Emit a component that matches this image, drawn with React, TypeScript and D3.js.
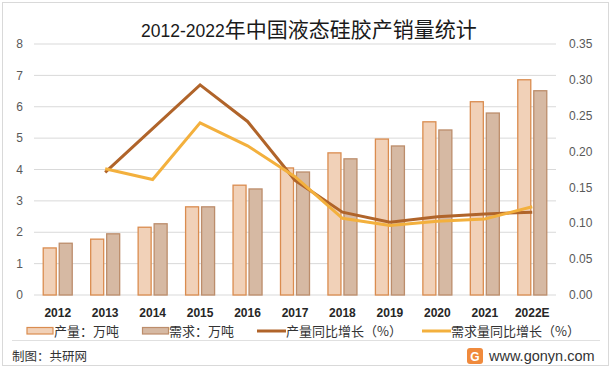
import React from "react";
import * as d3 from "d3";

const years = ["2012", "2013", "2014", "2015", "2016", "2017", "2018", "2019", "2020", "2021", "2022E"];
const production = [1.5, 1.78, 2.16, 2.81, 3.5, 4.05, 4.53, 4.97, 5.52, 6.16, 6.86];
const demand = [1.65, 1.95, 2.27, 2.81, 3.38, 3.92, 4.34, 4.75, 5.26, 5.8, 6.51];
const prodGrowth: (number | null)[] = [null, 0.171, 0.232, 0.293, 0.242, 0.16, 0.1155, 0.1016, 0.109, 0.113, 0.1155];
const demandGrowth: (number | null)[] = [null, 0.176, 0.161, 0.24, 0.208, 0.165, 0.107, 0.097, 0.103, 0.106, 0.123];
const leftTicks = [0, 1, 2, 3, 4, 5, 6, 7, 8];
const rightTicks = [0, 0.05, 0.1, 0.15, 0.2, 0.25, 0.3, 0.35];
const legendLabels = ["产量：万吨", "需求：万吨", "产量同比增长（%）", "需求量同比增长（%）"];

const W = 611;
const H = 369;
const plotLeft = 34;
const plotRight = 556;
const plotTop = 44;
const plotBottom = 295;

const C_PROD_FILL = "#F1D1B8";
const C_PROD_STROKE = "#DA8C4F";
const C_DEM_FILL = "#D6B9A3";
const C_DEM_STROKE = "#BC8D6B";
const C_PROD_LINE = "#B0642A";
const C_DEM_LINE = "#F3B03D";
const FONT = "'Noto Sans CJK SC', 'Noto Sans', sans-serif";

export default function App() {
  const x = d3.scaleBand<string>().domain(years).range([plotLeft, plotRight]);
  const yL = d3.scaleLinear().domain([0, 8]).range([plotBottom, plotTop]);
  const yR = d3.scaleLinear().domain([0, 0.35]).range([plotBottom, plotTop]);
  const cx = (d: string) => (x(d) as number) + x.bandwidth() / 2;
  const barW = 13;
  const gap = 3;

  const lineGen = d3
    .line<number | null>()
    .defined((d) => d !== null)
    .x((_, i) => cx(years[i]))
    .y((d) => yR(d as number));

  return (
    <svg
      width={W}
      height={H}
      style={{ position: "absolute", left: 0, top: 0, background: "#fff" }}
      fontFamily={FONT}
    >
      <rect x={2.5} y={2.5} width={W - 5} height={H - 6} fill="#fff" stroke="#D9D9D9" strokeWidth={1} />

      {/* title */}
      <text x={141} y={37} fill="#1a1a1a">
        <tspan fontFamily="'Liberation Sans', 'DejaVu Sans', sans-serif" fontSize={17.5}>2012-2022</tspan>
        <tspan fontSize={21} fontFamily="'Noto Sans CJK SC', sans-serif">年中国液态硅胶产销量统计</tspan>
      </text>

      {/* gridlines */}
      {leftTicks.map((t) => (
        <line key={"g" + t} x1={plotLeft} x2={plotRight} y1={yL(t)} y2={yL(t)} stroke="#D9D9D9" strokeWidth={1} />
      ))}

      {/* left ticks */}
      {leftTicks.map((t) => (
        <text key={"l" + t} x={23} y={yL(t)} dy="0.35em" textAnchor="end" fontSize={12} fill="#595959"
          fontFamily="'Liberation Sans', 'DejaVu Sans', sans-serif">
          {t}
        </text>
      ))}
      {/* right ticks */}
      {rightTicks.map((t) => (
        <text key={"r" + t} x={569} y={yR(t)} dy="0.35em" textAnchor="start" fontSize={12} fill="#595959"
          fontFamily="'Liberation Sans', 'DejaVu Sans', sans-serif">
          {d3.format(".2f")(t)}
        </text>
      ))}

      {/* bars */}
      {years.map((yr, i) => {
        const c = cx(yr);
        const x0 = c - barW - gap / 2;
        const x1 = c + gap / 2;
        return (
          <g key={"b" + yr}>
            <rect x={x0} y={yL(production[i])} width={barW} height={yL(0) - yL(production[i])}
              fill={C_PROD_FILL} stroke={C_PROD_STROKE} strokeWidth={1.3} />
            <rect x={x1} y={yL(demand[i])} width={barW} height={yL(0) - yL(demand[i])}
              fill={C_DEM_FILL} stroke={C_DEM_STROKE} strokeWidth={1.3} />
          </g>
        );
      })}

      {/* lines */}
      <path d={lineGen(prodGrowth) || ""} fill="none" stroke={C_PROD_LINE} strokeWidth={3} />
      <path d={lineGen(demandGrowth) || ""} fill="none" stroke={C_DEM_LINE} strokeWidth={3} />

      {/* x labels */}
      {years.map((yr) => (
        <text key={"x" + yr} x={cx(yr)} y={313} dy="0.35em" textAnchor="middle" fontSize={12} fontWeight="bold"
          fill="#262626" fontFamily="'Liberation Sans', 'DejaVu Sans', sans-serif">
          {yr}
        </text>
      ))}

      {/* legend */}
      <g fontSize={13} fill="#333">
        <rect x={27} y={327.5} width={26} height={6.5} fill={C_PROD_FILL} stroke={C_PROD_STROKE} strokeWidth={1.2} />
        <text x={54} y={331} dy="0.35em">{legendLabels[0]}</text>
        <rect x={142.5} y={327.5} width={26} height={6.5} fill={C_DEM_FILL} stroke={C_DEM_STROKE} strokeWidth={1.2} />
        <text x={169} y={331} dy="0.35em">{legendLabels[1]}</text>
        <line x1={257} x2={286} y1={331} y2={331} stroke={C_PROD_LINE} strokeWidth={3} />
        <text x={286} y={331} dy="0.35em">{legendLabels[2]}</text>
        <line x1={422} x2={451} y1={331} y2={331} stroke={C_DEM_LINE} strokeWidth={3} />
        <text x={451} y={331} dy="0.35em">{legendLabels[3]}</text>
      </g>

      {/* footer */}
      <line x1={12} x2={600} y1={340.5} y2={340.5} stroke="#E0E0E0" strokeWidth={1} />
      <text x={12} y={356.5} dy="0.35em" fontSize={12.5} fill="#333">制图：共研网</text>
      <g>
        <rect x={467} y={348} width={16} height={16} rx={3} fill="#F08A3C" />
        <text x={475} y={356.5} dy="0.36em" textAnchor="middle" fontSize={12} fontWeight="bold" fill="#fff"
          fontFamily="'Liberation Sans', sans-serif">G</text>
      </g>
      <text x={489} y={356} dy="0.35em" fontSize={14.5} fill="#333" fontFamily="'Liberation Sans', 'DejaVu Sans', sans-serif">
        www.gonyn.com
      </text>
    </svg>
  );
}
